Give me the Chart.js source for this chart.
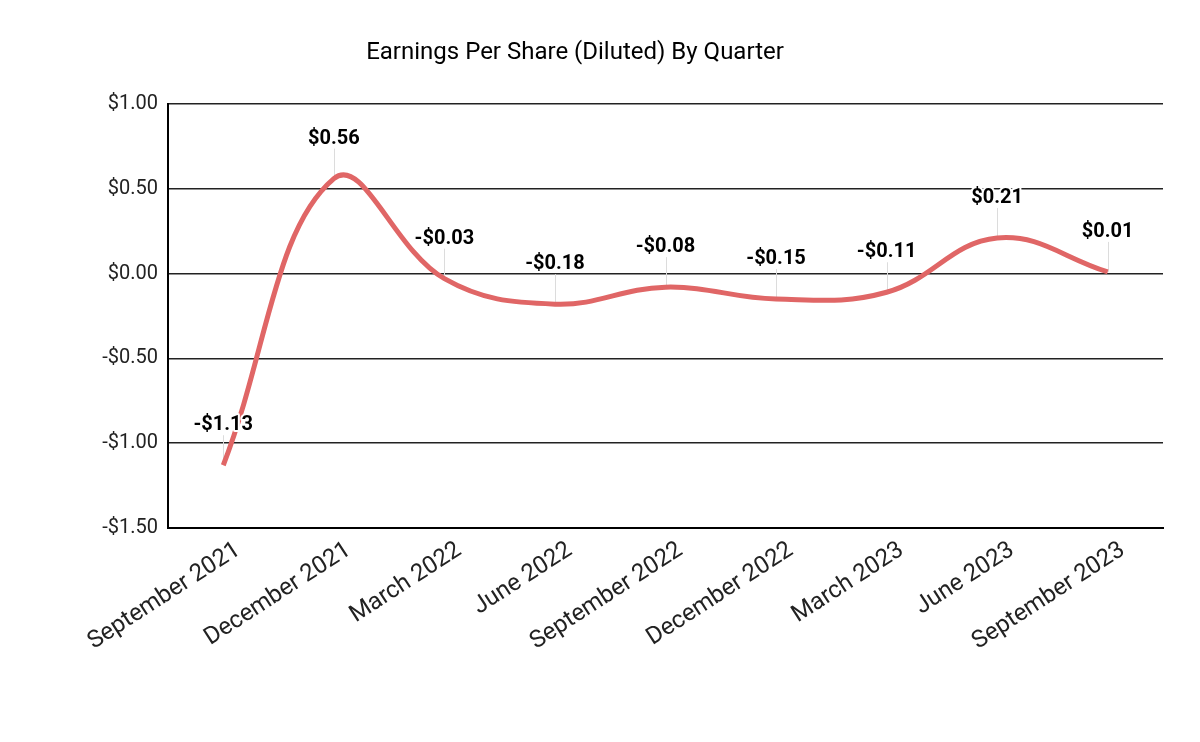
<!DOCTYPE html>
<html lang="en">
<head>
    <meta charset="UTF-8">
    <title>Earnings Per Share (Diluted) By Quarter</title>
    <script src="https://cdn.jsdelivr.net/npm/chart.js@4.4.0/dist/chart.umd.min.js"></script>
    <style>
        body { margin: 0; background: #fff; }
        canvas { display: block; }
    </style>
</head>
<body>
<canvas id="epsChart" width="1200" height="742"></canvas>
<script>

    var quarters = [
        "September 2021", "December 2021", "March 2022", "June 2022", "September 2022",
        "December 2022", "March 2023", "June 2023", "September 2023"
    ];
    var eps = [-1.13, 0.56, -0.03, -0.18, -0.08, -0.15, -0.11, 0.21, 0.01];
    var yTicks = [-1.5, -1.0, -0.5, 0.0, 0.5, 1.0];

    function money(v) {
        var s = '$' + Math.abs(v).toFixed(2);
        return v < 0 ? '-' + s : s;
    }

    // title sits left of the plot centre, so draw it by hand
    var titlePlugin = {
        id: 'sheetTitle',
        afterDraw: function (chart) {
            var ctx = chart.ctx;
            ctx.save();
            ctx.font = '24px Roboto';
            ctx.fillStyle = '#000';
            ctx.textAlign = 'center';
            ctx.textBaseline = 'middle';
            ctx.fillText('Earnings Per Share (Diluted) By Quarter', 575, 53);
            ctx.restore();
        }
    };

    // leader lines + value labels
    var labelPlugin = {
        id: 'valueLabels',
        beforeDatasetsDraw: function (chart) {
            var ctx = chart.ctx;
            var pts = chart.getDatasetMeta(0).data;
            ctx.save();
            ctx.strokeStyle = '#dcdcdc';
            ctx.lineWidth = 1;
            pts.forEach(function (p) {
                ctx.beginPath();
                ctx.moveTo(Math.round(p.x) + 0.5, p.y);
                ctx.lineTo(Math.round(p.x) + 0.5, p.y - 30);
                ctx.stroke();
            });
            ctx.restore();
        },
        afterDatasetsDraw: function (chart) {
            var ctx = chart.ctx;
            var pts = chart.getDatasetMeta(0).data;
            ctx.save();
            ctx.font = 'bold 20px Roboto';
            ctx.textAlign = 'center';
            ctx.textBaseline = 'alphabetic';
            ctx.lineJoin = 'round';
            pts.forEach(function (p, i) {
                var txt = money(eps[i]);
                ctx.strokeStyle = '#fff';
                ctx.lineWidth = 4;
                ctx.strokeText(txt, p.x, p.y - 35);
                ctx.fillStyle = '#000';
                ctx.fillText(txt, p.x, p.y - 35);
            });
            ctx.restore();
        }
    };

    var config = {
        type: 'line',
        data: {
            labels: quarters,
            datasets: [{
                label: 'EPS',
                data: eps,
                borderColor: '#e06666',
                borderWidth: 5,
                tension: 0.4,
                pointRadius: 0,
                fill: false
            }]
        },
        options: {
            responsive: false,
            animation: false,
            layout: {
                padding: { left: 0, right: 37, top: 104, bottom: 0 }
            },
            plugins: {
                legend: { display: false },
                title: { display: false },
                tooltip: { enabled: false }
            },
            scales: {
                x: {
                    offset: true,
                    grid: { display: false, drawTicks: false },
                    border: { display: true, color: '#000', width: 2 },
                    ticks: {
                        color: '#222',
                        font: { family: 'Roboto', size: 24 },
                        minRotation: 33,
                        maxRotation: 33,
                        autoSkip: false,
                        padding: 8,
                        labelOffset: 15
                    },
                    afterFit: function (scale) { scale.height = 214; }
                },
                y: {
                    min: -1.5,
                    max: 1.0,
                    afterBuildTicks: function (scale) {
                        scale.ticks = yTicks.map(function (v) { return { value: v }; });
                    },
                    grid: { color: '#222', lineWidth: 1.5, drawTicks: false },
                    border: { display: true, color: '#000', width: 2 },
                    ticks: {
                        color: '#222',
                        font: { family: 'Roboto', size: 20 },
                        padding: 10,
                        callback: function (v) { return money(v); }
                    },
                    afterFit: function (scale) { scale.width = 168; }
                }
            }
        },
        plugins: [titlePlugin, labelPlugin]
    };

    window.onload = function () {
        var ctx = document.getElementById("epsChart").getContext("2d");
        window.myLine = new Chart(ctx, config);
    };

</script>
</body>
</html>
